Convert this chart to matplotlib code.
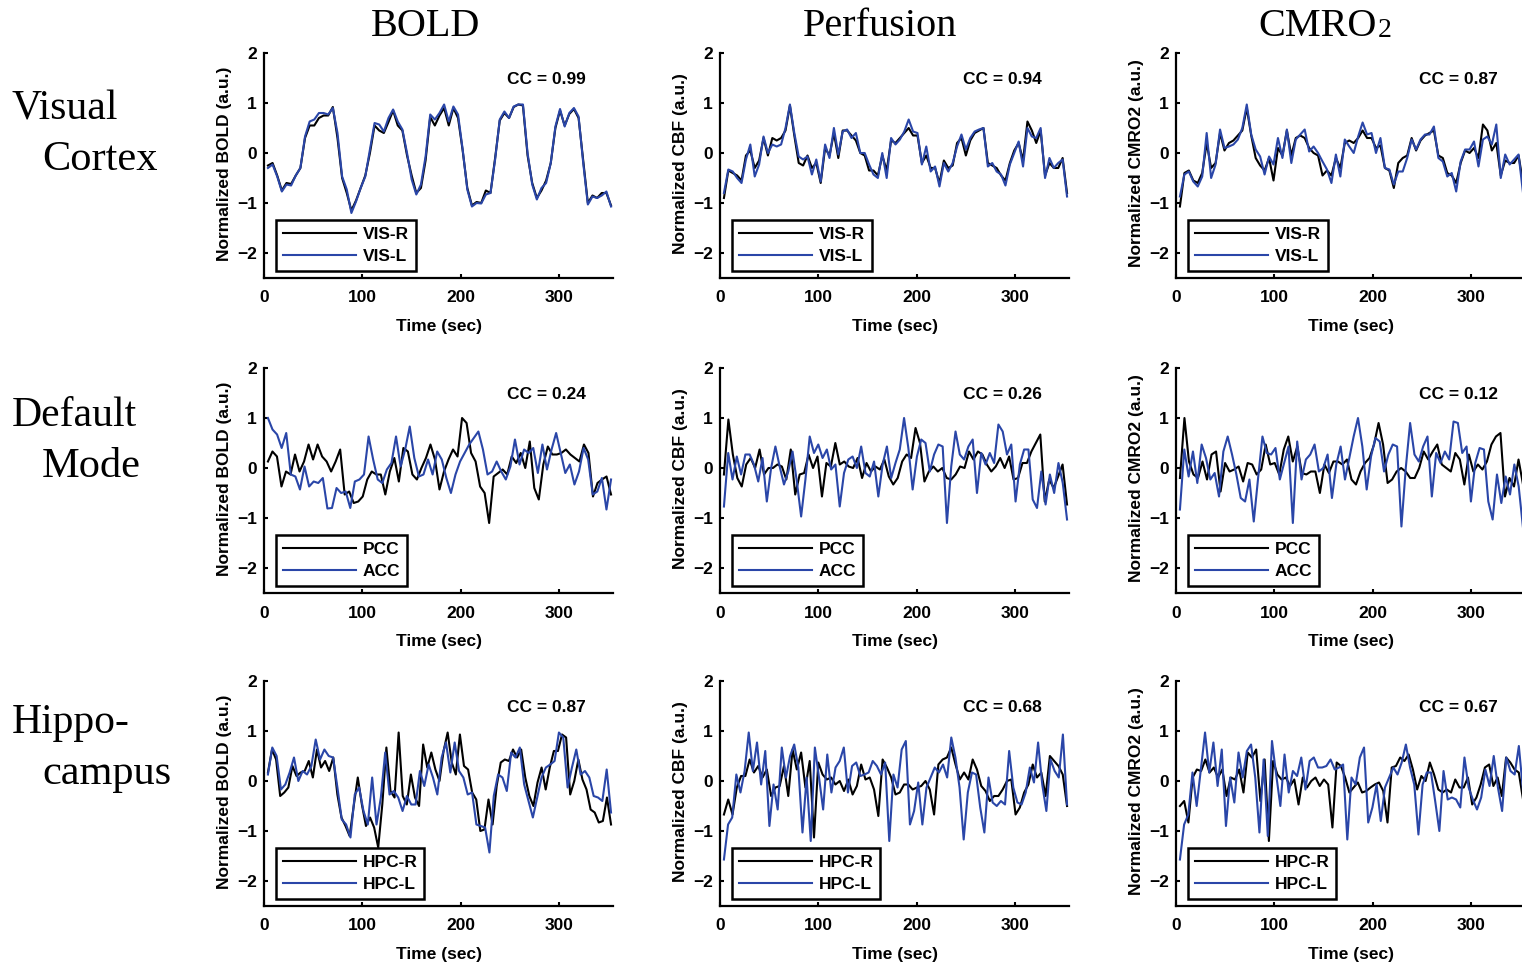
import matplotlib.pyplot as plt
import numpy as np

plt.rcParams['font.family'] = ['Liberation Sans', 'DejaVu Sans']
plt.rcParams['font.weight'] = 'bold'

# ---------------- data (normalized signal, a.u.) ----------------
T_START, T_END = 4, 353          # first / last sample time (sec)

# Visual cortex
vis_bold_r = [-0.25, -0.2, -0.45, -0.75, -0.6, -0.62, -0.45, -0.3, 0.3, 0.55, 0.55, 0.7, 0.75, 0.75,
              0.92, 0.3, -0.5, -0.8, -1.15, -0.95, -0.7, -0.45, 0.0, 0.55, 0.45, 0.4, 0.62, 0.85, 0.55, 0.45, -0.05,
              -0.45, -0.8, -0.7, -0.15, 0.72, 0.55, 0.75, 0.9, 0.55, 0.9, 0.7, 0.05, -0.7, -1.05, -0.98, -1.0, -0.75,
              -0.8, -0.1, 0.65, 0.8, 0.7, 0.92, 0.97, 0.95, -0.05, -0.6, -0.9, -0.75, -0.55, -0.2, 0.5, 0.85, 0.55,
              0.78, 0.88, 0.7, -0.15, -1.0, -0.85, -0.9, -0.8, -0.8, -1.05]
vis_bold_l = [-0.3, -0.23, -0.47, -0.77, -0.63, -0.65, -0.45, -0.3, 0.33, 0.63, 0.67, 0.8, 0.8, 0.77,
              0.9, 0.4, -0.47, -0.73, -1.2, -0.97, -0.7, -0.47, 0.07, 0.6, 0.57, 0.43, 0.7, 0.87, 0.63, 0.47, 0.0,
              -0.53, -0.83, -0.63, -0.07, 0.77, 0.67, 0.8, 0.97, 0.63, 0.93, 0.77, 0.07, -0.73, -1.07, -1.0, -1.01,
              -0.83, -0.8, -0.13, 0.67, 0.83, 0.7, 0.93, 0.97, 0.97, 0.0, -0.63, -0.93, -0.7, -0.6, -0.2, 0.53, 0.88,
              0.53, 0.8, 0.9, 0.73, -0.2, -1.03, -0.87, -0.9, -0.85, -0.77, -1.07]
vis_cbf_r = [-0.9, -0.35, -0.4, -0.45, -0.55, -0.05, 0.05, -0.3, -0.15, 0.3, -0.05, 0.3, 0.25, 0.3, 0.45, 0.95,
             0.35, -0.2, -0.25, -0.05, -0.3, -0.2, -0.6, 0.1, -0.05, 0.4, -0.1, 0.45, 0.45, 0.35, 0.25, 0.0, -0.05,
             -0.35, -0.35, -0.45, -0.05, -0.35, 0.25, 0.2, 0.3, 0.4, 0.5, 0.35, 0.35, -0.2, -0.05, -0.3, -0.3, -0.6,
             -0.15, -0.3, -0.25, 0.2, 0.3, -0.05, 0.25, 0.4, 0.45, 0.5, -0.2, -0.25, -0.3, -0.45, -0.55, -0.2, 0.05,
             0.2, -0.15, 0.63, 0.45, 0.2, 0.45, -0.45, -0.2, -0.3, -0.3, -0.1, -0.8]
vis_cbf_l = [-0.8, -0.33, -0.37, -0.5, -0.6, -0.13, 0.17, -0.47, -0.23, 0.33, 0.0, 0.17, 0.13, 0.17, 0.5, 0.97,
             0.4, -0.07, -0.13, -0.07, -0.43, -0.13, -0.57, 0.17, -0.1, 0.5, -0.03, 0.43, 0.47, 0.3, 0.4, 0.0, 0.0,
             -0.23, -0.43, -0.5, 0.0, -0.5, 0.3, 0.17, 0.27, 0.43, 0.67, 0.43, 0.4, -0.23, 0.13, -0.37, -0.27, -0.67,
             -0.2, -0.37, -0.2, 0.13, 0.37, 0.07, 0.3, 0.43, 0.47, 0.5, -0.27, -0.2, -0.37, -0.43, -0.65, -0.23, 0.0,
             0.23, -0.27, 0.5, 0.33, 0.3, 0.5, -0.5, -0.1, -0.3, -0.2, -0.13, -0.87]
vis_cmro2_r = [-1.07, -0.4, -0.35, -0.55, -0.6, -0.4, 0.2, -0.3, -0.2, 0.4, 0.05, 0.2, 0.25, 0.35, 0.45, 0.9, 0.35,
               -0.1, -0.25, -0.35, -0.1, -0.55, 0.1, -0.05, 0.45, -0.05, 0.3, 0.35, 0.3, 0.1, 0.0, -0.05, -0.45,
               -0.35, -0.45, -0.1, -0.3, 0.2, 0.25, 0.2, 0.3, 0.45, 0.3, 0.3, 0.1, 0.15, -0.3, -0.35, -0.7, -0.2,
               -0.1, -0.05, 0.3, 0.05, 0.25, 0.35, 0.4, 0.45, -0.05, -0.1, -0.4, -0.45, -0.6, -0.2, 0.05, 0.0, 0.1,
               -0.1, 0.57, 0.45, 0.05, 0.2, -0.45, -0.15, -0.2, -0.2, -0.05, -0.6]
vis_cmro2_l = [-0.87, -0.43, -0.37, -0.57, -0.67, -0.47, 0.4, -0.5, -0.23, 0.47, 0.1, 0.13, 0.17, 0.27, 0.5, 0.97,
               0.37, 0.07, -0.07, -0.43, -0.07, -0.23, 0.3, -0.1, 0.47, -0.2, 0.27, 0.37, 0.47, 0.03, 0.13, 0.0,
               -0.17, -0.33, -0.6, -0.03, -0.47, 0.27, 0.13, 0.0, 0.33, 0.61, 0.37, 0.4, 0.0, 0.3, -0.3, -0.33, -0.63,
               -0.37, -0.37, -0.1, 0.27, 0.07, 0.27, 0.37, 0.37, 0.53, -0.1, -0.17, -0.47, -0.4, -0.77, -0.17, 0.07,
               0.07, 0.23, -0.27, 0.27, 0.33, 0.17, 0.57, -0.5, -0.03, -0.23, -0.13, -0.03, -0.8]

# Default mode network
dmn_bold_pcc = [0.13, 0.33, 0.23, -0.37, -0.07, -0.13, 0.27, -0.07, 0.13, 0.47, 0.17, 0.47, 0.23, 0.13, -0.07, 0.13,
                0.37, -0.53, -0.47, -0.7, -0.67, -0.57, -0.23, -0.07, -0.13, -0.13, -0.53, -0.07, 0.2, -0.27, 0.4,
                0.33, -0.13, -0.23, 0.0, 0.2, 0.47, 0.17, -0.43, -0.07, 0.17, 0.37, 0.23, 1.0, 0.9, 0.3, 0.13, -0.37,
                -0.5, -1.1, -0.17, -0.1, -0.03, -0.13, 0.23, 0.1, 0.3, 0.0, 0.53, -0.4, -0.63, 0.07, 0.43, 0.27, 0.27,
                0.3, 0.37, 0.27, 0.2, 0.13, 0.47, 0.3, -0.57, -0.3, -0.23, -0.17, -0.53]
dmn_bold_acc = [1.0, 0.77, 0.67, 0.4, 0.7, -0.13, -0.17, -0.43, 0.03, -0.37, -0.27, -0.3, -0.2, -0.81, -0.8, -0.4,
                -0.5, -0.47, -0.8, -0.27, -0.23, -0.13, 0.63, 0.17, -0.23, -0.3, -0.03, 0.1, 0.63, 0.03, 0.37, 0.83,
                0.2, -0.17, -0.13, 0.17, -0.13, 0.33, 0.17, -0.2, -0.5, -0.13, 0.13, 0.3, 0.47, 0.6, 0.73, 0.37,
                -0.13, -0.07, 0.13, -0.07, -0.23, 0.03, 0.57, 0.07, 0.37, 0.3, 0.4, -0.1, 0.47, -0.03, 0.37, 0.7, 0.3,
                -0.1, 0.07, -0.33, -0.07, 0.4, 0.17, -0.53, -0.47, -0.2, -0.83, -0.23]
dmn_cbf_pcc = [-0.13, 0.97, 0.27, -0.2, -0.37, 0.07, 0.2, 0.0, 0.37, -0.13, 0.0, 0.0, 0.07, 0.03, -0.23, 0.37, -0.53,
               -0.13, -0.1, 0.27, 0.0, 0.23, -0.57, 0.1, 0.03, 0.5, 0.07, 0.13, 0.03, 0.0, 0.2, -0.2, 0.1, -0.07,
               0.03, -0.03, 0.17, -0.17, -0.33, -0.2, 0.13, 0.27, 0.2, 0.8, 0.5, -0.27, -0.07, 0.03, -0.07, 0.0,
               -0.2, -0.23, -0.13, 0.03, 0.0, 0.33, 0.17, 0.33, 0.27, 0.07, -0.07, 0.03, 0.2, 0.0, 0.23, -0.23, -0.2,
               0.1, 0.1, 0.33, 0.5, 0.67, -0.67, -0.23, -0.4, -0.17, 0.07, -0.73]
dmn_cbf_acc = [-0.77, 0.3, -0.23, 0.23, -0.13, 0.27, 0.27, 0.07, -0.27, 0.2, -0.67, 0.0, 0.43, 0.03, -0.33, -0.07,
               0.33, -0.27, -0.97, -0.23, 0.63, 0.3, 0.47, 0.2, 0.37, -0.03, 0.07, -0.77, -0.1, 0.17, 0.23, 0.0,
               0.43, -0.1, -0.17, 0.13, -0.57, 0.07, 0.43, -0.2, 0.1, 0.37, 1.0, 0.4, -0.43, 0.23, 0.57, 0.5, -0.07,
               0.27, 0.47, 0.43, -1.1, 0.03, 0.73, 0.27, 0.17, 0.43, 0.57, -0.5, 0.3, 0.07, 0.3, 0.1, 0.87, 0.73,
               0.27, 0.47, -0.67, 0.07, 0.37, 0.37, -0.63, -0.8, -0.07, -0.73, -0.13, -0.5, 0.1, -0.3, -1.03]
dmn_cmro2_pcc = [-0.2, 1.0, 0.13, -0.13, -0.2, 0.13, -0.23, 0.27, 0.33, -0.47, 0.1, -0.07, -0.03, 0.03, -0.27, 0.1,
                 0.07, -0.13, -0.03, 0.47, 0.07, 0.1, -0.13, 0.37, 0.63, 0.13, 0.43, -0.1, -0.13, -0.07, -0.07, -0.5,
                 0.07, -0.1, 0.13, 0.13, 0.07, 0.17, -0.23, -0.33, -0.07, 0.1, 0.2, 0.47, 0.9, 0.47, -0.3, -0.23,
                 -0.07, 0.0, -0.07, -0.2, -0.2, 0.0, 0.33, 0.17, 0.33, 0.47, 0.07, 0.0, -0.07, 0.3, 0.17, -0.33, 0.27,
                 -0.07, 0.07, -0.03, 0.13, 0.47, 0.63, 0.7, -0.57, -0.2, -0.37, 0.17, -0.33]
dmn_cmro2_acc = [-0.83, 0.37, -0.17, 0.33, -0.3, 0.47, 0.2, -0.23, -0.1, -0.57, 0.33, 0.63, 0.27, -0.13, -0.6, -0.67,
                 -0.23, -1.07, -0.2, 0.63, 0.3, 0.27, 0.4, -0.23, 0.1, 0.43, -1.1, 0.53, -0.23, 0.17, 0.27, 0.47,
                 -0.07, 0.0, 0.27, -0.6, 0.07, 0.43, -0.23, 0.2, 0.63, 1.0, 0.43, -0.43, 0.23, 0.6, 0.53, -0.07, 0.27,
                 0.47, 0.43, -1.17, 0.0, 0.9, 0.27, 0.13, 0.43, 0.63, -0.57, 0.3, 0.1, 0.33, 0.17, 0.93, 0.9, 0.3,
                 0.43, -0.67, 0.1, 0.4, 0.37, -0.67, -1.03, -0.13, -0.7, -0.17, -0.53, 0.07, -0.37, -1.2]

# Hippocampus
hpc_bold_r = [0.17, 0.63, 0.43, -0.3, -0.23, -0.13, 0.3, 0.1, 0.17, 0.2, 0.4, 0.07, 0.63, 0.27, 0.4, 0.2, 0.47,
              -0.27, -0.73, -0.9, -1.1, -0.5, 0.07, -0.47, -0.9, -0.73, -0.93, -1.33, -0.47, 0.67, -0.2, -0.33,
              0.97, -0.3, -0.47, 0.13, -0.33, -0.5, 0.73, 0.27, 0.57, 0.23, 0.0, 0.6, 0.97, 0.37, 0.13, 0.93, 0.3,
              0.23, -0.23, -0.37, -1.0, -0.97, -0.37, -0.87, -0.1, 0.37, 0.43, 0.4, 0.63, 0.47, 0.63, 0.07, -0.3,
              -0.5, -0.03, 0.27, -0.17, 0.27, 0.6, 0.6, 0.93, 0.87, -0.27, 0.0, 0.43, 0.03, -0.17, -0.57, -0.63,
              -0.83, -0.8, -0.33, -0.87]
hpc_bold_l = [0.13, 0.67, 0.5, -0.17, -0.07, 0.17, 0.47, 0.0, 0.2, 0.13, 0.3, 0.83, 0.43, 0.63, 0.5, 0.47, -0.13,
              -0.77, -0.87, -1.13, -0.27, -0.13, -0.6, -0.87, 0.07, -0.87, -0.33, 0.57, -0.27, -0.2, -0.33, -0.6,
              -0.3, -0.47, -0.47, 0.2, -0.1, 0.33, 0.07, -0.27, 0.47, 0.77, 0.17, 0.77, 0.2, 0.07, -0.27, -0.23,
              -0.87, -0.9, -0.93, -1.43, -0.3, 0.13, 0.07, -0.2, 0.57, 0.47, 0.67, -0.07, -0.4, -0.73, -0.33, 0.07,
              0.27, 0.33, 0.4, 0.97, 0.87, -0.13, 0.27, 0.63, 0.13, 0.2, 0.07, -0.3, -0.33, -0.4, 0.23, -0.63]
hpc_cbf_r = [-0.67, -0.37, -0.67, -0.13, 0.1, 0.1, 0.43, 0.17, 0.3, 0.07, 0.23, -0.3, -0.13, -0.1, 0.3, -0.3, 0.63,
             0.23, 0.57, -0.13, 0.4, -1.13, 0.37, 0.13, 0.03, 0.07, -0.07, 0.0, -0.2, 0.03, -0.27, -0.1, 0.33, 0.03,
             0.07, -0.17, -0.7, 0.43, 0.27, 0.07, -0.27, -0.23, -0.07, -0.07, -0.17, -0.13, -0.1, 0.0, -0.17, -0.67,
             0.33, 0.43, 0.47, 0.67, 0.33, 0.03, 0.17, 0.03, 0.43, 0.23, -0.1, -0.2, -0.4, -0.3, -0.3, -0.17, 0.0,
             0.03, -0.67, -0.53, -0.23, -0.07, 0.33, 0.07, 0.17, -0.3, 0.5, 0.4, 0.3, 0.13, -0.5]
hpc_cbf_l = [-1.57, -0.87, -0.73, 0.13, -0.23, 0.2, 0.97, 0.2, 0.77, -0.07, 0.6, -0.9, -0.07, -0.57, 0.67, 0.07,
             0.5, 0.73, 0.27, -1.03, 0.07, -1.2, 0.67, 0.07, -0.57, 0.53, -0.23, 0.27, 0.4, 0.67, -0.23, 0.3, 0.37,
             0.1, 0.13, 0.17, 0.4, 0.3, 0.13, 0.37, -1.2, 0.13, -0.13, 0.63, 0.8, -0.87, -0.6, -0.03, -0.87, -0.13,
             0.07, 0.27, 0.17, 0.33, 0.07, 0.87, 0.47, -0.13, -1.17, -0.23, 0.17, 0.13, -0.53, -1.03, 0.07, -0.43,
             -0.5, -0.4, -0.47, 0.6, -0.13, -0.43, -0.47, -0.23, 0.27, -0.03, 0.77, -0.07, -0.6, 0.43, 0.2, 0.07,
             0.93, -0.47]
hpc_cmro2_r = [-0.5, -0.4, -0.83, 0.07, 0.23, 0.2, 0.43, 0.17, 0.27, 0.07, 0.23, -0.3, 0.07, 0.03, 0.23, -0.23, 0.57,
               0.47, 0.63, -0.4, 0.43, -1.2, 0.4, 0.13, 0.03, 0.07, -0.1, 0.03, -0.47, 0.07, -0.13, 0.0, 0.07, -0.1,
               0.03, -0.07, -0.93, 0.37, 0.3, 0.07, -0.23, -0.13, -0.03, -0.23, -0.2, -0.13, -0.07, -0.03, -0.2,
               -0.83, 0.27, 0.3, 0.47, 0.4, 0.53, 0.23, -0.17, 0.1, 0.0, 0.37, 0.13, -0.17, -0.23, -0.17, -0.23,
               0.03, -0.13, -0.13, 0.07, -0.47, -0.33, -0.07, 0.27, 0.33, -0.1, 0.07, -0.3, 0.47, 0.37, 0.23, 0.17,
               -0.37]
hpc_cmro2_l = [-1.57, -0.87, -0.67, 0.17, -0.5, 0.23, 0.97, 0.17, 0.77, -0.1, 0.63, -0.9, 0.07, -0.43, 0.57, 0.07,
               0.6, 0.73, 0.07, -1.03, 0.43, -1.1, 0.8, 0.13, -0.5, 0.53, -0.23, 0.2, 0.1, 0.47, -0.17, 0.4, 0.47,
               0.27, 0.27, 0.3, 0.43, 0.23, 0.27, 0.33, -1.17, 0.07, -0.07, 0.47, 0.67, -0.83, -0.53, -0.07, -0.8,
               -0.13, 0.07, 0.27, 0.13, 0.37, 0.73, 0.27, -0.07, -1.07, -0.07, 0.17, 0.17, -0.4, -1.0, 0.2, -0.37,
               -0.33, -0.37, -0.53, 0.47, -0.13, -0.37, -0.57, -0.33, 0.23, -0.1, 0.5, -0.13, -0.6, 0.47, 0.2, 0.13,
               0.7, -0.2]

right_series = [[vis_bold_r, vis_cbf_r, vis_cmro2_r],
                [dmn_bold_pcc, dmn_cbf_pcc, dmn_cmro2_pcc],
                [hpc_bold_r, hpc_cbf_r, hpc_cmro2_r]]
left_series = [[vis_bold_l, vis_cbf_l, vis_cmro2_l],
               [dmn_bold_acc, dmn_cbf_acc, dmn_cmro2_acc],
               [hpc_bold_l, hpc_cbf_l, hpc_cmro2_l]]
cc_values = [[0.99, 0.94, 0.87],
             [0.24, 0.26, 0.12],
             [0.87, 0.68, 0.67]]
legend_labels = [('VIS-R', 'VIS-L'), ('PCC', 'ACC'), ('HPC-R', 'HPC-L')]
col_titles = [('BOLD', ''), ('Perfusion', ''), ('CMRO', '2')]
y_labels = ['Normalized BOLD (a.u.)', 'Normalized CBF (a.u.)', 'Normalized CMRO2 (a.u.)']
row_names = [('Visual', 'Cortex'), ('Default', 'Mode'), ('Hippo-', 'campus')]

# ---------------- layout (pixels) ----------------
W, H = 1522, 965
col_left = [264, 720, 1176]
row_top = [53, 368, 681]
ax_w, ax_h = 349, 225
BLUE = '#2a46a8'
FS = 12.5

fig = plt.figure(figsize=(W / 100, H / 100), dpi=100)

for r in range(3):
    for c in range(3):
        ax = fig.add_axes([col_left[c] / W, 1 - (row_top[r] + ax_h) / H, ax_w / W, ax_h / H])
        yr = right_series[r][c]
        yl = left_series[r][c]
        ax.plot(np.linspace(T_START, T_END, len(yr)), yr, color='black', lw=1.5,
                label=legend_labels[r][0])
        ax.plot(np.linspace(T_START, T_END, len(yl)), yl, color=BLUE, lw=1.5,
                label=legend_labels[r][1])
        ax.set_xlim(0, 355)
        ax.set_ylim(-2.5, 2)
        ax.set_xticks([0, 100, 200, 300])
        ax.set_yticks([-2, -1, 0, 1, 2])
        for s in ['top', 'right']:
            ax.spines[s].set_visible(False)
        for s in ['left', 'bottom']:
            ax.spines[s].set_linewidth(1.6)
        ax.tick_params(direction='in', length=3, width=1.5, labelsize=FS)
        ax.tick_params(axis='x', pad=9)
        ax.tick_params(axis='y', pad=5)
        ax.set_xlabel('Time (sec)', fontsize=FS, fontweight='bold', labelpad=10)
        ax.text(287, 1.47, 'CC = %.2f' % cc_values[r][c], ha='center', va='center',
                fontsize=FS, fontweight='bold')
        leg = ax.legend(loc='lower left', bbox_to_anchor=(0.034, 0.03), fontsize=FS,
                        handlelength=4.2, handletextpad=0.4, borderpad=0.4,
                        labelspacing=0.4, fancybox=False, framealpha=1, borderaxespad=0)
        leg.get_frame().set_edgecolor('black')
        leg.get_frame().set_linewidth(1.8)
        fig.text((col_left[c] - 39) / W, 1 - (row_top[r] + ax_h / 2 - 2) / H, y_labels[c],
                 rotation=90, ha='center', va='center', fontsize=FS, fontweight='bold')

# column titles (CMRO gets a smaller "2" right after it)
title_left = [371, 803, 1258]
renderer = fig.canvas.get_renderer()
for c, (main, sub) in enumerate(col_titles):
    t = fig.text(title_left[c] / W, 1 - 36 / H, main, ha='left', va='baseline',
                 fontsize=29, family='Liberation Serif', fontweight='normal')
    if sub:
        x_end = t.get_window_extent(renderer).x1
        fig.text((x_end + 1) / W, 1 - 37 / H, sub, ha='left', va='baseline',
                 fontsize=20, family='Liberation Serif', fontweight='normal')

# row names
row_base = [119, 426, 733]
for r, (a, b) in enumerate(row_names):
    fig.text(12 / W, 1 - row_base[r] / H, a, ha='left', va='baseline', fontsize=30,
             family='Liberation Serif', fontweight='normal')
    fig.text(42 / W, 1 - (row_base[r] + 51) / H, b, ha='left', va='baseline', fontsize=30.5,
             family='Liberation Serif', fontweight='normal')

fig.savefig('out.png', dpi=100)
